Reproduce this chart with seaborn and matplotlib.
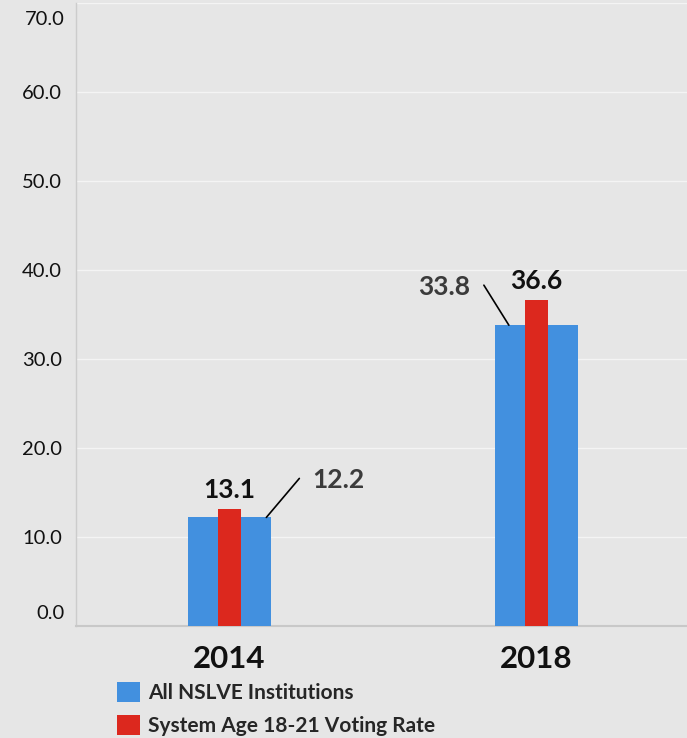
import numpy as np
import pandas as pd
import matplotlib
matplotlib.use("Agg")
import matplotlib.pyplot as plt
import seaborn as sns
from matplotlib.patches import Patch

# data
years = ["2014", "2018"]
all_nslve = [12.2, 33.8]
system_rate = [13.1, 36.6]
series_names = ["All NSLVE Institutions", "System Age 18-21 Voting Rate"]
y_ticks = [0, 10, 20, 30, 40, 50, 60, 70]

BLUE = "#4290df"
RED = "#dc281e"
BG = "#e6e6e6"

sns.set_theme(style="whitegrid")
plt.rcParams["font.family"] = ["Lato", "DejaVu Sans"]

df = pd.DataFrame({"year": years, "all": all_nslve, "system": system_rate})

fig = plt.figure(figsize=(6.87, 7.38), dpi=100, facecolor=BG)
ax = fig.add_axes([76 / 687, 112 / 738, 614 / 687, 623 / 738])
ax.set_facecolor(BG)

sns.barplot(data=df, x="year", y="all", color=BLUE, width=0.27,
            saturation=1, linewidth=0, ax=ax, zorder=3)
sns.barplot(data=df, x="year", y="system", color=RED, width=0.072,
            saturation=1, linewidth=0, ax=ax, zorder=4)

ax.set_xlim(-0.5, 1.5)
ax.set_ylim(0, 70)
ax.set_yticks(y_ticks)
# end labels are nudged inside the plot, drawn separately below
ax.set_yticklabels([""] + [f"{v:.1f}" for v in y_ticks[1:-1]] + [""],
                   fontsize=14.5, color="#111111")
ax.tick_params(axis="y", length=0, pad=10)
for v, dy, va in [(y_ticks[0], 4, "bottom"), (y_ticks[-1], -8, "top")]:
    ax.annotate(f"{v:.1f}", xy=(0, v), xycoords=("axes fraction", "data"),
                xytext=(-11, dy), textcoords="offset pixels", ha="right",
                va=va, fontsize=14.5, color="#111111")

ax.set_xticks(range(len(years)))
ax.set_xticklabels(years, fontsize=22.5, fontweight="bold", color="#111111")
ax.tick_params(axis="x", length=0, pad=14)
ax.set_xlabel("")
ax.set_ylabel("")

ax.grid(axis="y", color="#f4f4f4", linewidth=1)
ax.grid(axis="x", visible=False)
for s in ["top", "right"]:
    ax.spines[s].set_visible(False)
ax.spines["left"].set_color("#cccccc")
ax.spines["bottom"].set_color("#c8c8c8")
ax.spines["bottom"].set_linewidth(1.5)
ax.spines["left"].set_linewidth(1)

# small white boundary ticks below the axis
ax.set_xticks([-0.5, 0.5], minor=True)
ax.tick_params(axis="x", which="minor", length=5, color="white", width=1.2,
               direction="out")

# bold labels on red bars
for i, v in enumerate(system_rate):
    ax.annotate(f"{v:.1f}", xy=(i, v), xytext=(0, 7), textcoords="offset pixels",
                ha="center", va="bottom", fontsize=19, fontweight="bold",
                color="#111111")

# callout labels for blue bars
callouts = [(0.12, 33, 39, "left"), (-0.09, -25, 40, "right")]
for i, (v, (dx, ox, oy, ha)) in enumerate(zip(all_nslve, callouts)):
    ax.annotate("", xy=(i + dx, v), xytext=(ox, oy), textcoords="offset pixels",
                arrowprops=dict(arrowstyle="-", color="black", lw=1.2,
                                shrinkA=0, shrinkB=0))
    tx = ox + (13 if ha == "left" else -14)
    ax.annotate(f"{v:.1f}", xy=(i + dx, v), xytext=(tx, oy - 2),
                textcoords="offset pixels", ha=ha, va="center", fontsize=19,
                fontweight="bold", color="#3b3b3b")

handles = [Patch(facecolor=BLUE, edgecolor="none"),
           Patch(facecolor=RED, edgecolor="none")]
fig.legend(handles, series_names, loc="upper left",
           bbox_to_anchor=(117 / 687, 1 - 682 / 738), frameon=False,
           prop={"size": 15, "weight": "bold"}, handlelength=1.1,
           handleheight=1.1, handletextpad=0.4, labelspacing=0.55,
           borderpad=0, borderaxespad=0)

fig.savefig("out.png", dpi=100, facecolor=BG)
